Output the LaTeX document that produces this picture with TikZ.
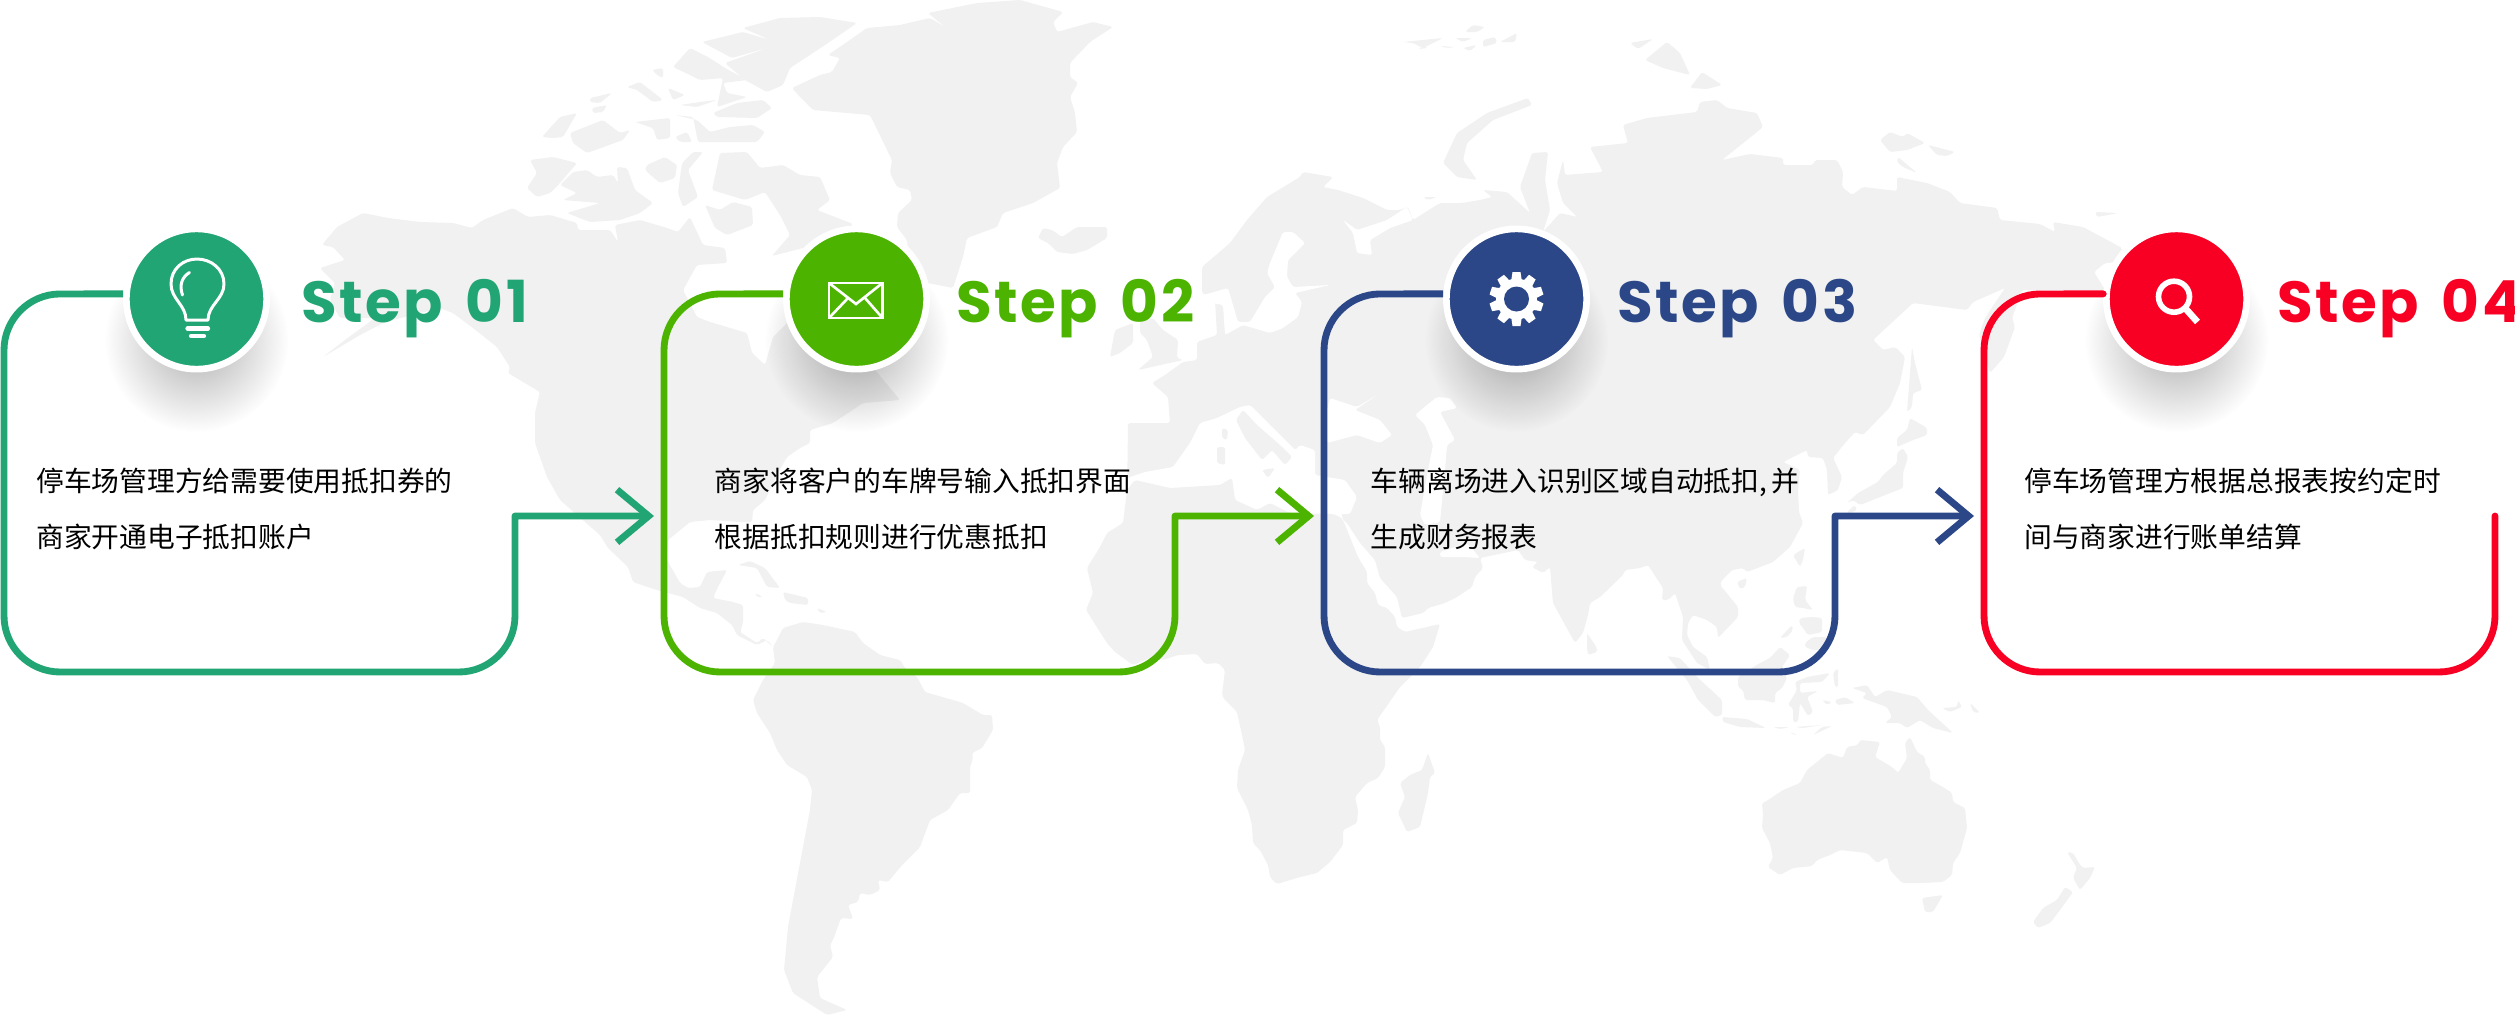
\documentclass[tikz,border=0pt]{standalone}
\usepackage{fontspec}
\usepackage{xcolor}
\usepackage{tikz}
\usetikzlibrary{arrows.meta,fadings}
\newfontfamily\stepfont[LetterSpace=4,WordSpace=1.6]{Poppins}
\newfontfamily\cjkfont{Noto Sans CJK SC}
\definecolor{stepgreen}{RGB}{33,165,116}
\definecolor{steplime}{RGB}{76,180,0}
\definecolor{stepblue}{RGB}{43,71,135}
\definecolor{stepred}{RGB}{248,0,36}
\definecolor{landgrey}{RGB}{241,241,241}
\tikzfading[name=softshadow, inner color=transparent!0, outer color=transparent!100]
\tikzset{
  land/.style={fill=landgrey, rounded corners=1pt},
  sea/.style={fill=white, rounded corners=1pt},
  dropshadow/.style={fill=black, opacity=.32, path fading=softshadow},
  stepcircle/.style={circle, draw=white, line width=3.8pt, minimum size=2.806cm, inner sep=0pt},
  steptitle/.style={font=\stepfont\bfseries\fontsize{33}{33}\selectfont, anchor=base west, inner sep=0pt},
  steptext/.style={font=\cjkfont\fontsize{15.8}{31.9}\selectfont, anchor=west, align=left, inner sep=0pt},
  stepline/.style={line width=3.9pt, line join=round},
  steparrow/.style={stepline, -{Straight Barb[length=18pt,width=30pt]}},
  iconline/.style={white, line width=1.7pt, line cap=round, line join=round},
}
\begin{document}
\begin{tikzpicture}[x=0.02cm, y=-0.02cm]
  \path[use as bounding box, fill=white] (0,0) rectangle (2515,1015);

  % north america
  \fill[land] (322,245)--(333,247)--(345,260)--(320,268)--(335,283)--(330,300)--(340,318)--(375,318)--(345,340)--(323,357)--(360,335)--(385,322)--(440,308)--(453,313)--(473,328)--(497,347)--(510,367)--(508,373)--(540,392)--(535,413)--(535,443)--(547,477)--(560,500)--(600,535)--(608,548)--(628,567)--(633,582)--(657,590)--(683,597)--(700,608)--(717,613)--(732,625)--(737,635)--(757,645)--(767,640)--(773,647)--(763,638)--(757,643)--(740,632)--(743,623)--(743,605)--(733,602)--(713,598)--(718,587)--(727,570)--(707,572)--(700,587)--(688,588)--(680,583)--(667,560)--(668,540)--(690,522)--(710,520)--(740,522)--(752,522)--(753,510)--(765,500)--(778,473)--(787,457)--(800,448)--(810,443)--(810,430)--(833,423)--(863,403)--(900,400)--(875,370)--(860,340)--(800,310)--(773,337)--(765,365)--(752,353)--(747,333)--(710,322)--(697,317)--(683,290)--(697,265)--(727,263)--(725,248)--(703,245)--(690,217)--(678,232)--(667,228)--(640,220)--(615,225)--(618,242)--(610,230)--(578,230)--(577,223)--(550,215)--(528,217)--(513,208)--(483,220)--(472,228)--(453,223)--(420,222)--(388,218)--(363,213)--(337,227)--cycle;
  % arctic canada and greenland
  \fill[land] (530,160)--(553,157)--(577,163)--(560,183)--(550,193)--(537,197)--(527,188)--(537,173)--cycle
    (560,185)--(573,172)--(587,170)--(597,177)--(613,175)--(618,183)--(617,167)--(627,168)--(635,190)--(653,203)--(640,213)--(620,220)--(590,222)--(567,213)--(600,203)--(563,200)--(577,193)--cycle
    (647,165)--(665,157)--(677,165)--(675,178)--(660,183)--(645,170)--cycle
    (693,152)--(703,152)--(688,170)--(698,197)--(683,207)--(678,193)--(682,163)--cycle
    (712,190)--(720,153)--(747,152)--(760,168)--(783,165)--(800,175)--(820,177)--(830,200)--(817,210)--(853,224)--(840,240)--(803,248)--(772,256)--(790,235)--(780,215)--(765,192)--(745,200)--cycle
    (705,205)--(720,210)--(733,202)--(752,207)--(753,225)--(727,235)--(715,228)--cycle
    (542,137)--(560,117)--(577,113)--(563,137)--(553,138)--cycle
    (570,133)--(603,120)--(620,133)--(630,130)--(623,140)--(587,153)--(573,143)--cycle
    (590,98)--(612,93)--(600,103)--(590,102)--cycle
    (592,108)--(607,105)--(603,112)--(593,113)--cycle
    (627,87)--(640,82)--(663,100)--(653,102)--(637,90)--cycle
    (652,70)--(663,68)--(663,78)--(657,75)--cycle
    (635,122)--(670,118)--(670,138)--(657,140)--(653,128)--cycle
    (675,115)--(693,117)--(698,142)--(757,142)--(765,132)--(753,125)--(730,127)--(710,132)--(697,120)--cycle
    (675,137)--(687,132)--(692,142)--(680,142)--cycle
    (713,113)--(737,103)--(763,100)--(772,108)--(757,118)--(717,117)--cycle
    (680,105)--(700,102)--(717,100)--(697,107)--cycle
    (673,67)--(690,48)--(708,57)--(725,68)--(747,80)--(723,83)--(727,93)--(747,97)--(717,107)--(723,78)--(700,80)--(690,75)--cycle
    (668,88)--(685,95)--(673,100)--cycle
    (702,42)--(743,32)--(770,40)--(743,28)--(780,18)--(820,17)--(857,23)--(825,45)--(790,68)--(783,85)--(767,92)--(745,80)--(725,63)--(770,47)--(732,58)--cycle
    (800,97)--(792,88)--(820,75)--(832,72)--(840,58)--(828,55)--(847,42)--(867,28)--(900,25)--(930,18)--(945,27)--(928,13)--(977,3)--(1020,0)--(1063,12)--(1053,22)--(1057,32)--(1093,22)--(1113,27)--(1090,42)--(1070,63)--(1070,77)--(1078,83)--(1070,97)--(1075,113)--(1077,132)--(1063,147)--(1057,163)--(1060,188)--(1033,203)--(1003,213)--(997,227)--(967,238)--(963,257)--(953,288)--(928,283)--(910,270)--(907,240)--(897,227)--(898,213)--(912,200)--(910,190)--(897,187)--(890,173)--(892,160)--(870,115)--(813,110)--cycle
    (1038,238)--(1043,228)--(1052,230)--(1062,237)--(1077,227)--(1107,227)--(1107,238)--(1087,250)--(1073,254)--(1057,252)--(1048,243)--cycle;
  % caribbean and south america
  \fill[land] (738,565)--(750,561)--(765,568)--(780,588)--(767,587)--(757,568)--cycle
    (783,592)--(808,598)--(808,605)--(790,603)--(785,600)--cycle
    (755,593)--(763,597)--(757,597)--cycle
    (817,608)--(827,612)--(820,613)--cycle
    (777,640)--(783,628)--(803,622)--(823,625)--(855,632)--(863,643)--(880,655)--(900,660)--(905,668)--(917,677)--(925,692)--(963,703)--(983,715)--(992,715)--(993,730)--(982,748)--(972,753)--(973,758)--(970,767)--(970,793)--(960,793)--(948,810)--(930,820)--(920,847)--(902,865)--(888,882)--(878,880)--(880,890)--(870,895)--(860,893)--(858,902)--(848,905)--(853,919)--(841,918)--(833,940)--(830,945)--(833,957)--(817,977)--(820,998)--(847,1010)--(827,1015)--(793,993)--(784,970)--(788,927)--(800,863)--(810,810)--(812,790)--(807,777)--(787,765)--(777,750)--(770,733)--(757,713)--(753,700)--(763,680)--(775,663)--(773,647)--cycle;
  % eurasia
  \fill[land] (1127,500)--(1128,423)--(1170,423)--(1168,397)--(1152,383)--(1165,375)--(1183,362)--(1197,360)--(1197,342)--(1217,335)--(1215,300)--(1202,293)--(1202,267)--(1230,243)--(1247,220)--(1267,197)--(1300,177)--(1303,172)--(1333,177)--(1323,187)--(1338,190)--(1363,198)--(1387,210)--(1400,210)--(1408,207)--(1413,220)--(1440,203)--(1462,203)--(1480,200)--(1492,197)--(1483,190)--(1507,192)--(1530,213)--(1520,187)--(1532,153)--(1548,152)--(1545,180)--(1550,210)--(1543,232)--(1560,213)--(1577,217)--(1563,203)--(1557,183)--(1563,160)--(1565,175)--(1603,172)--(1590,147)--(1628,143)--(1623,125)--(1647,118)--(1697,112)--(1700,102)--(1717,100)--(1727,108)--(1757,113)--(1763,127)--(1747,140)--(1722,160)--(1750,154)--(1783,158)--(1783,165)--(1813,165)--(1815,160)--(1837,160)--(1843,172)--(1842,187)--(1852,195)--(1863,187)--(1897,191)--(1897,177)--(1927,183)--(1950,192)--(1960,203)--(1997,208)--(2000,220)--(2040,224)--(2055,232)--(2053,222)--(2083,227)--(2122,248)--(2120,262)--(2105,263)--(2094,272)--(2105,290)--(2060,290)--(2022,290)--(2012,318)--(2015,327)--(2004,357)--(1990,373)--(1979,335)--(1985,318)--(2005,288)--(1973,302)--(1967,310)--(1913,303)--(1873,340)--(1883,350)--(1895,347)--(1905,357)--(1900,383)--(1890,407)--(1863,435)--(1855,432)--(1845,443)--(1833,458)--(1842,477)--(1838,490)--(1828,495)--(1827,470)--(1823,458)--(1808,457)--(1807,450)--(1783,462)--(1800,470)--(1798,490)--(1799,512)--(1803,523)--(1790,547)--(1773,562)--(1747,572)--(1743,568)--(1732,570)--(1722,580)--(1720,585)--(1738,607)--(1738,617)--(1718,638)--(1717,627)--(1707,620)--(1693,615)--(1688,623)--(1687,635)--(1693,647)--(1707,657)--(1710,670)--(1697,663)--(1682,640)--(1683,617)--(1675,593)--(1668,600)--(1662,600)--(1663,588)--(1648,565)--(1640,568)--(1625,570)--(1623,575)--(1600,597)--(1590,603)--(1588,615)--(1583,633)--(1575,643)--(1553,603)--(1550,567)--(1543,573)--(1532,567)--(1538,562)--(1525,560)--(1518,550)--(1480,558)--(1483,568)--(1475,577)--(1472,587)--(1457,597)--(1445,603)--(1428,608)--(1423,613)--(1402,618)--(1397,597)--(1380,578)--(1375,560)--(1360,543)--(1347,523)--(1343,520)--(1340,505)--(1200,497)--cycle;
  % inland seas cut out of eurasia
  \fill[sea] (1173,467)--(1190,443)--(1200,423)--(1217,418)--(1240,407)--(1250,405)--(1270,425)--(1295,450)--(1300,445)--(1315,450)--(1315,475)--(1345,480)--(1357,497)--(1350,514)--(1300,515)--(1130,515)--(1127,478)--(1145,472)--cycle
    (1330,398)--(1357,407)--(1377,395)--(1355,410)--(1380,420)--(1392,435)--(1380,443)--(1357,435)--(1327,443)--(1325,417)--cycle
    (1415,415)--(1427,405)--(1437,397)--(1450,398)--(1457,408)--(1440,412)--(1455,440)--(1447,445)--(1445,470)--(1440,522)--(1425,525)--(1420,515)--(1428,470)--(1433,445)--(1425,425)--cycle
    (1283,232)--(1293,232)--(1305,243)--(1288,260)--(1287,277)--(1293,287)--(1330,285)--(1295,293)--(1302,302)--(1298,317)--(1283,328)--(1270,333)--(1243,325)--(1225,335)--(1223,305)--(1212,303)--(1200,296)--(1228,288)--(1238,322)--(1250,322)--(1265,297)--(1275,287)--(1267,273)--(1270,263)--cycle
    (1343,220)--(1357,230)--(1387,220)--(1407,207)--(1413,220)--(1390,228)--(1370,240)--(1372,255)--(1357,253)--(1353,233)--cycle
    (1440,552)--(1467,543)--(1480,558)--(1463,557)--(1440,557)--cycle;
  % africa, europe's islands and the rest of the old world
  \fill[land] (1343,520)--(1358,557)--(1367,572)--(1367,583)--(1375,593)--(1378,605)--(1387,608)--(1395,617)--(1397,627)--(1405,632)--(1440,624)--(1433,647)--(1420,667)--(1400,687)--(1377,720)--(1380,727)--(1380,740)--(1385,747)--(1385,767)--(1378,778)--(1367,783)--(1355,797)--(1358,810)--(1357,823)--(1343,830)--(1343,845)--(1330,862)--(1317,873)--(1300,877)--(1277,884)--(1270,877)--(1268,865)--(1260,850)--(1253,843)--(1252,825)--(1248,810)--(1237,788)--(1238,770)--(1245,750)--(1242,735)--(1237,712)--(1225,700)--(1222,695)--(1225,670)--(1218,663)--(1205,664)--(1197,654)--(1178,655)--(1163,660)--(1150,658)--(1133,665)--(1115,652)--(1107,643)--(1086,610)--(1093,593)--(1087,568)--(1100,547)--(1107,533)--(1123,523)--(1127,490)--(1135,480)--(1170,488)--(1220,485)--(1232,478)--(1235,500)--(1257,510)--(1270,503)--(1290,513)--(1333,514)--(1340,517)--cycle
    (1243,410)--(1257,425)--(1280,445)--(1292,457)--(1285,465)--(1272,450)--(1262,460)--(1245,438)--(1236,420)--cycle
    (1222,428)--(1228,430)--(1227,440)--(1222,438)--cycle
    (1217,447)--(1225,447)--(1225,465)--(1217,463)--cycle
    (1262,470)--(1275,468)--(1268,478)--cycle
    (1110,357)--(1115,330)--(1133,323)--(1133,343)--(1120,353)--cycle
    (1140,320)--(1153,318)--(1163,330)--(1178,340)--(1177,358)--(1183,360)--(1138,370)--(1153,357)--(1147,340)--(1140,333)--cycle
    (1587,633)--(1597,648)--(1597,652)--(1588,655)--(1587,647)--cycle
    (1428,753)--(1435,773)--(1430,777)--(1428,793)--(1420,827)--(1407,832)--(1398,813)--(1405,797)--(1400,783)--(1410,775)--(1422,770)--cycle
    (1443,163)--(1457,133)--(1487,113)--(1528,98)--(1532,105)--(1493,120)--(1467,143)--(1463,160)--(1477,180)--(1457,177)--cycle
    (1423,197)--(1437,197)--(1428,200)--cycle;
  % arctic islands
  \fill[land] (1403,42)--(1443,38)--(1423,48)--(1413,43)--cycle
    (1465,32)--(1473,25)--(1485,27)--(1477,32)--cycle
    (1455,38)--(1472,38)--(1463,42)--cycle
    (1483,40)--(1495,37)--(1497,43)--(1483,47)--cycle
    (1500,42)--(1517,33)--(1515,42)--cycle
    (1440,46)--(1455,47)--(1447,48)--cycle
    (1463,48)--(1477,45)--(1470,51)--cycle
    (1417,48)--(1428,47)--(1423,49)--cycle
    (1630,43)--(1653,39)--(1638,49)--cycle
    (1645,60)--(1667,42)--(1680,53)--(1690,75)--(1663,68)--cycle
    (1690,88)--(1702,72)--(1722,85)--(1707,89)--cycle
    (1880,140)--(1890,132)--(1903,137)--(1907,133)--(1925,143)--(1907,150)--(1890,152)--cycle
    (1928,145)--(1955,152)--(1947,156)--(1937,155)--cycle
    (1898,157)--(1917,173)--(1903,167)--(1897,162)--cycle
    (2095,212)--(2118,213)--(2097,217)--cycle;
  % japan and south east asia
  \fill[land] (1912,347)--(1915,363)--(1922,390)--(1913,393)--(1912,407)--(1907,412)--(1910,373)--cycle
    (1910,418)--(1927,428)--(1927,435)--(1913,440)--(1897,447)--(1897,438)--(1907,430)--cycle
    (1903,448)--(1908,457)--(1903,473)--(1903,488)--(1880,497)--(1860,505)--(1853,500)--(1847,503)--(1858,493)--(1878,482)--(1883,475)--(1897,463)--(1897,453)--cycle
    (1847,512)--(1855,505)--(1857,510)--(1848,514)--cycle
    (1793,555)--(1805,548)--(1803,560)--(1800,567)--cycle
    (1737,582)--(1747,578)--(1745,587)--(1740,589)--cycle
    (1797,587)--(1807,586)--(1805,600)--(1813,610)--(1803,608)--(1795,607)--(1793,598)--cycle
    (1800,618)--(1813,617)--(1822,618)--(1822,632)--(1808,635)--(1803,628)--(1799,623)--cycle
    (1805,643)--(1813,637)--(1827,637)--(1823,650)--(1813,650)--(1805,647)--cycle
    (1780,638)--(1792,625)--(1793,630)--(1787,637)--cycle
    (1667,656)--(1680,658)--(1697,677)--(1722,700)--(1722,715)--(1715,717)--(1698,700)--(1687,680)--cycle
    (1722,717)--(1747,719)--(1766,728)--(1740,727)--(1723,722)--cycle
    (1773,727)--(1790,727)--(1780,729)--cycle
    (1795,727)--(1822,725)--(1803,728)--cycle
    (1813,735)--(1822,727)--(1832,726)--cycle
    (1790,732)--(1798,735)--(1792,734)--cycle
    (1738,677)--(1760,663)--(1770,658)--(1780,647)--(1790,655)--(1782,667)--(1787,678)--(1782,688)--(1775,693)--(1775,703)--(1763,700)--(1745,700)--(1743,690)--(1738,687)--cycle
    (1795,682)--(1807,677)--(1830,673)--(1822,682)--(1800,683)--(1800,693)--(1818,691)--(1807,697)--(1813,712)--(1808,716)--(1800,703)--(1798,722)--(1793,722)--(1793,708)--(1788,705)--(1797,690)--cycle
    (1833,673)--(1838,668)--(1838,687)--(1835,687)--cycle
    (1822,700)--(1832,702)--(1827,705)--cycle
    (1835,700)--(1845,697)--(1855,703)--(1837,705)--cycle
    (1852,688)--(1867,685)--(1875,697)--(1887,690)--(1917,697)--(1928,710)--(1953,733)--(1933,728)--(1920,720)--(1907,728)--(1900,723)--(1885,723)--(1892,717)--(1887,707)--(1862,698)--(1867,693)--cycle
    (1942,708)--(1957,707)--(1958,700)--(1962,707)--(1950,712)--cycle
    (1970,703)--(1980,713)--(1973,712)--cycle;
  % australia and new zealand
  \fill[land] (1765,802)--(1783,790)--(1800,783)--(1807,770)--(1828,753)--(1843,758)--(1847,747)--(1858,745)--(1860,740)--(1880,742)--(1875,757)--(1892,767)--(1898,773)--(1907,758)--(1905,743)--(1910,737)--(1917,752)--(1925,757)--(1925,763)--(1930,770)--(1930,780)--(1943,787)--(1952,793)--(1953,802)--(1965,808)--(1967,828)--(1960,853)--(1953,863)--(1952,875)--(1943,882)--(1920,883)--(1902,883)--(1890,870)--(1887,857)--(1877,863)--(1867,853)--(1840,850)--(1830,855)--(1817,860)--(1812,866)--(1793,868)--(1780,875)--(1768,867)--(1773,858)--(1770,843)--(1762,828)--(1763,815)--(1762,803)--cycle
    (1922,898)--(1943,895)--(1933,912)--(1925,912)--cycle
    (2067,852)--(2073,853)--(2080,865)--(2083,868)--(2095,867)--(2090,878)--(2080,890)--(2073,878)--(2077,868)--cycle
    (2065,887)--(2073,892)--(2060,910)--(2050,923)--(2038,928)--(2033,922)--(2043,908)--(2057,900)--cycle;

  \fill[dropshadow] (196.5,340) circle (92);
  \fill[dropshadow] (856.5,340) circle (92);
  \fill[dropshadow] (1516.5,340) circle (92);
  \fill[dropshadow] (2176.5,340) circle (92);

  \node[stepcircle, fill=stepgreen] (c1) at (196.5,299) {};
  \node[stepcircle, fill=steplime] (c2) at (856.5,299) {};
  \node[stepcircle, fill=stepblue] (c3) at (1516.5,299) {};
  \node[stepcircle, fill=stepred] (c4) at (2176.5,299) {};

  \coordinate (tip1) at (654,516);
  \coordinate (tip2) at (1314,516);
  \coordinate (tip3) at (1974,516);
  \draw[steparrow, stepgreen, rounded corners=32pt] (c1.176) -- (4,294) -- (4,672) -- (515,672) [sharp corners] -- (515,516) -- (tip1);
  \draw[steparrow, steplime, rounded corners=32pt] (c2.176) -- (664,294) -- (664,672) -- (1175,672) [sharp corners] -- (1175,516) -- (tip2);
  \draw[steparrow, stepblue, rounded corners=32pt] (c3.176) -- (1324,294) -- (1324,672) -- (1835,672) [sharp corners] -- (1835,516) -- (tip3);
  \draw[stepline, line cap=round, stepred, rounded corners=32pt] (c4.176) -- (1984,294) -- (1984,672) -- (2495,672) -- (2495,516);

  \draw[iconline] (186,320) .. controls (186,305) and (171,299) .. (171,284) .. controls (171,269) and (183,259) .. (197,259) .. controls (211,259) and (224,269) .. (224,284) .. controls (224,299) and (208,305) .. (208,320) -- cycle;
  \draw[iconline] (182.5,295) .. controls (179,285) and (182,277) .. (189.5,272.5);
  \draw[iconline, line width=2.4pt] (187.5,328.5) -- (208,328.5);
  \draw[iconline, line width=2.4pt] (191,336) -- (204,336);

  \draw[iconline, line cap=butt, line join=miter, line width=1.5pt] (829,283) rectangle (882.5,318);
  \draw[iconline, line cap=butt, line join=miter, line width=1.5pt] (829,283) -- (856,304) -- (882.5,283);
  \draw[iconline, line cap=butt, line width=1.5pt] (829,318) -- (848,298);
  \draw[iconline, line cap=butt, line width=1.5pt] (882.5,318) -- (865,298);

  \fill[white] (c3) circle (20.5);
  \foreach \a in {18,54,...,342}
    \fill[white, shift={(c3)}, rotate=\a] (17,-5.5) -- (27,-4) -- (27,4) -- (17,5.5) -- cycle;
  \fill[stepblue] (c3) circle (12.5);

  \draw[white, line width=3.2pt] (2174,296.7) circle (15.5);
  \draw[white, line width=3.8pt] (2185,308) -- (2197.5,322);

  \node[steptitle, text=stepgreen] (t1) at (301,322.3) {Step 01};
  \node[steptitle, text=steplime] (t2) at (956,322.3) {Step 02};
  \node[steptitle, text=stepblue] (t3) at (1617,322.3) {Step 03};
  \node[steptitle, text=stepred] (t4) at (2277,322.3) {Step 04};

  \node[steptext] (d1) at (36,509) {停车场管理方给需要使用抵扣券的\\商家开通电子抵扣账户};
  \node[steptext] (d2) at (714.5,509) {商家将客户的车牌号输入抵扣界面\\根据抵扣规则进行优惠抵扣};
  \node[steptext] (d3) at (1370.5,509) {车辆离场进入识别区域自动抵扣,\hspace{.15em}并\\生成财务报表};
  \node[steptext] (d4) at (2024,509) {停车场管理方根据总报表按约定时\\间与商家进行账单结算};
\end{tikzpicture}
\end{document}
